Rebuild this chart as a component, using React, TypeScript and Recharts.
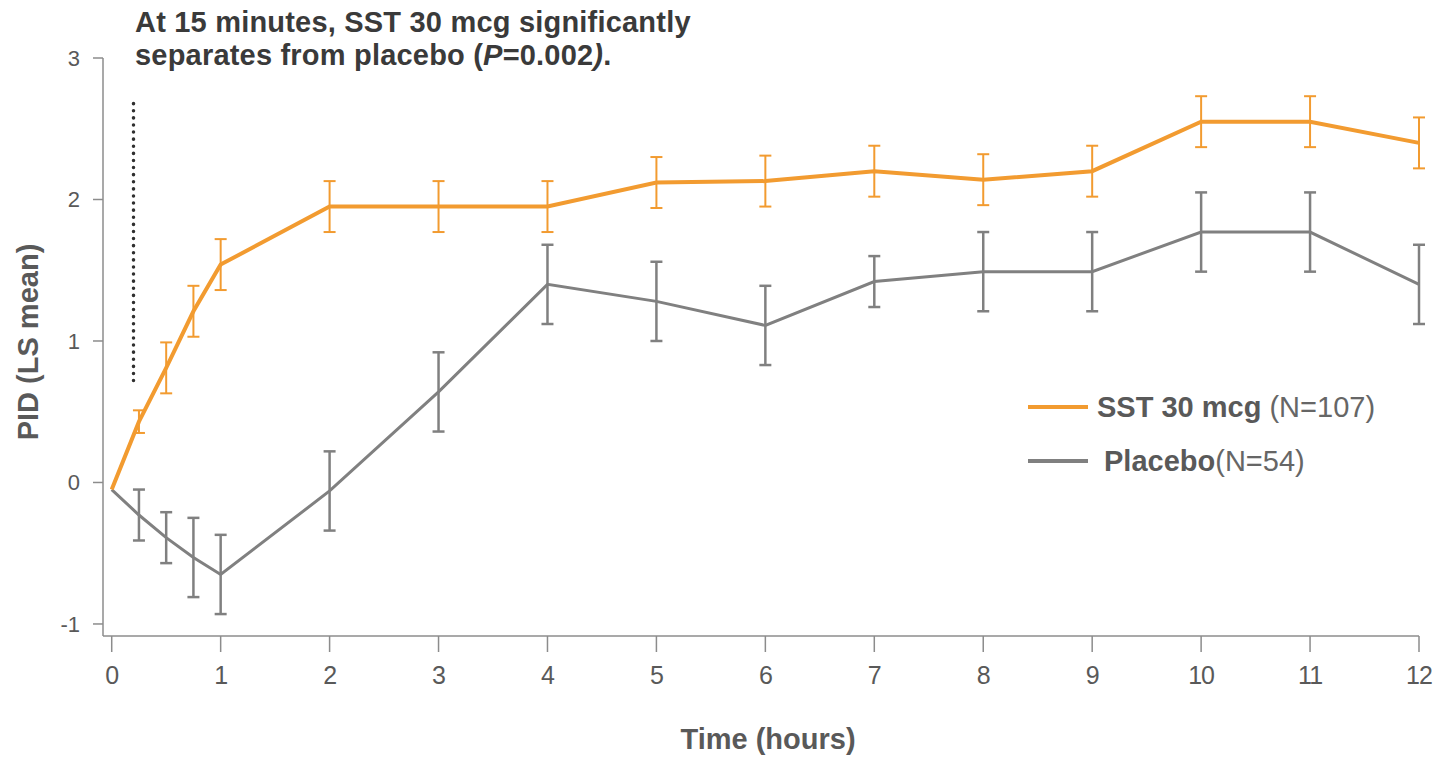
import { ErrorBar, Label, Legend, Line, LineChart, ReferenceLine, XAxis, YAxis } from "recharts";

const TIME_HOURS = [0, 0.25, 0.5, 0.75, 1, 2, 3, 4, 5, 6, 7, 8, 9, 10, 11, 12];
const SST_MEAN = [-0.05, 0.43, 0.81, 1.21, 1.54, 1.95, 1.95, 1.95, 2.12, 2.13, 2.2, 2.14, 2.2, 2.55, 2.55, 2.4];
const SST_ERR = [0, 0.08, 0.18, 0.18, 0.18, 0.18, 0.18, 0.18, 0.18, 0.18, 0.18, 0.18, 0.18, 0.18, 0.18, 0.18];
const PLACEBO_MEAN = [-0.05, -0.23, -0.39, -0.53, -0.65, -0.06, 0.64, 1.4, 1.28, 1.11, 1.42, 1.49, 1.49, 1.77, 1.77, 1.4];
const PLACEBO_ERR = [0, 0.18, 0.18, 0.28, 0.28, 0.28, 0.28, 0.28, 0.28, 0.28, 0.18, 0.28, 0.28, 0.28, 0.28, 0.28];
const X_TICKS = [0, 1, 2, 3, 4, 5, 6, 7, 8, 9, 10, 11, 12];
const Y_TICKS = [-1, 0, 1, 2, 3];

const ORANGE = "#F29B30";
const GRAY = "#808080";
const TEXT = "#595959";
const AXIS = "#8c8c8c";
const FONT = "'Liberation Sans', Arial, sans-serif";

const data = TIME_HOURS.map((t, i) => ({
  time: t,
  sst: SST_MEAN[i],
  sstErr: SST_ERR[i],
  placebo: PLACEBO_MEAN[i],
  placeboErr: PLACEBO_ERR[i],
}));

function LegendBox() {
  const row = (color: string, bold: string, rest: string, gap: number) => (
    <div style={{ display: "flex", alignItems: "center", height: 54 }}>
      <div style={{ width: 60, height: 4, background: color, marginRight: gap }} />
      <span style={{ fontSize: 29, color: TEXT, whiteSpace: "nowrap" }}>
        <b>{bold}</b>
        <span style={{ color: "#666" }}>{rest}</span>
      </span>
    </div>
  );
  return (
    <div style={{ fontFamily: FONT, letterSpacing: 0 }}>
      {row(ORANGE, "SST 30 mcg", " (N=107)", 9)}
      {row(GRAY, "Placebo", "(N=54)", 16)}
    </div>
  );
}

export default function App() {
  return (
    <div style={{ position: "relative", width: 1432, height: 750, fontFamily: FONT, background: "#fff" }}>
      <div
        style={{
          position: "absolute",
          left: 127,
          top: -2,
          fontSize: 29,
          fontWeight: "bold",
          color: "#3a3a3a",
          lineHeight: "33px",
          letterSpacing: 0.2,
          whiteSpace: "nowrap",
          zIndex: 2,
        }}
      >
        At 15 minutes, SST 30 mcg significantly
        <br />
        separates from placebo (<i>P</i>=0.002<i>)</i>.
      </div>
      <LineChart width={1432} height={750} data={data} margin={{ top: 50, right: 21, bottom: 62, left: 0 }}>
        <XAxis
          type="number"
          dataKey="time"
          domain={[-0.08, 12]}
          ticks={X_TICKS}
          interval={0}
          height={60}
          axisLine={{ stroke: AXIS, strokeWidth: 1.5 }}
          tickLine={{ stroke: AXIS, strokeWidth: 1.5 }}
          tickSize={16}
          tickMargin={14}
          tick={{ fontSize: 25, fill: TEXT, fontFamily: FONT, letterSpacing: -1 }}
        >
          <Label
            content={() => (
              <text x={760} y={741} textAnchor="middle" fontSize={29} fontWeight="bold" fill={TEXT} fontFamily={FONT}>
                Time (hours)
              </text>
            )}
          />
        </XAxis>
        <YAxis
          type="number"
          domain={[-1.085, 3]}
          ticks={Y_TICKS}
          interval={0}
          width={95}
          axisLine={{ stroke: AXIS, strokeWidth: 1.5 }}
          tickLine={{ stroke: AXIS, strokeWidth: 1.5 }}
          tickSize={10}
          tickMargin={13}
          tick={{ fontSize: 22, fill: TEXT, fontFamily: FONT }}
        >
          <Label
            content={() => (
              <text
                x={30}
                y={334}
                transform="rotate(-90 30 334)"
                textAnchor="middle"
                fontSize={29}
                fontWeight="bold"
                fill={TEXT}
                fontFamily={FONT}
              >
                PID (LS mean)
              </text>
            )}
          />
        </YAxis>
        <ReferenceLine
          segment={[
            { x: 0.2, y: 0.72 },
            { x: 0.2, y: 2.7 },
          ]}
          stroke="#2f2f2f"
          strokeWidth={3.5}
          strokeDasharray="0.1 7"
          strokeLinecap="round"
        />
        <Legend
          verticalAlign="middle"
          align="center"
          layout="horizontal"
          wrapperStyle={{ left: 1020, top: 372, width: 420 }}
          content={() => <LegendBox />}
        />
        <Line
          type="linear"
          dataKey="placebo"
          name="Placebo (N=54)"
          stroke={GRAY}
          strokeWidth={3}
          dot={false}
          isAnimationActive={false}
        >
          <ErrorBar dataKey="placeboErr" direction="y" width={6} stroke={GRAY} strokeWidth={2.5} isAnimationActive={false} />
        </Line>
        <Line
          type="linear"
          dataKey="sst"
          name="SST 30 mcg (N=107)"
          stroke={ORANGE}
          strokeWidth={4}
          dot={false}
          isAnimationActive={false}
        >
          <ErrorBar dataKey="sstErr" direction="y" width={6} stroke={ORANGE} strokeWidth={2} isAnimationActive={false} />
        </Line>
      </LineChart>
    </div>
  );
}
